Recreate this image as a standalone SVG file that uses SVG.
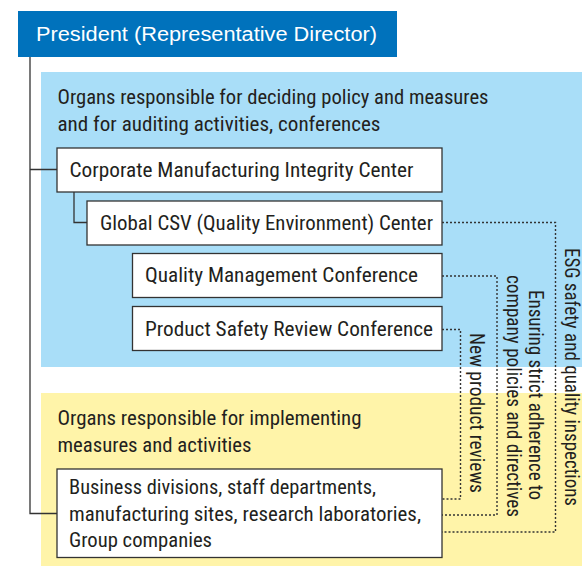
<svg xmlns="http://www.w3.org/2000/svg" width="582" height="569" viewBox="0 0 582 569">
  <style>
    .t { font-family: "Liberation Sans Narrow", "Roboto Condensed", "Liberation Sans", sans-serif; font-size: 20px; fill: #231f20; }
    .v { font-family: "Liberation Sans Narrow", "Roboto Condensed", Roboto, sans-serif; font-size: 19.5px; fill: #231f20; }
    .head { font-family: "Liberation Sans", Arial, sans-serif; font-size: 20px; fill: #ffffff; }
    .box { fill: #ffffff; stroke: #333333; stroke-width: 1.3; }
    .tree { fill: none; stroke: #333333; stroke-width: 1.3; }
    .dot { fill: none; stroke: #333333; stroke-width: 1.4; stroke-dasharray: 2 2; }
  </style>

  <!-- panels -->
  <rect x="41" y="72" width="541" height="295" fill="#a9def8"/>
  <rect x="41" y="393" width="541" height="173" fill="#fff4a9"/>

  <!-- reporting lines -->
  <g id="connectors">
    <path class="tree" d="M30,56 V513.5 H57 M30,169.5 H57 M74,192 V222.5 H87"/>
    <path class="dot" d="M442,222.5 H555.5 V532 H442"/>
    <path class="dot" d="M442,276 H497 V515 H442"/>
    <path class="dot" d="M442,329.5 H460.5 V499 H442"/>
  </g>

  <g id="president">
    <rect x="18" y="11" width="379" height="46" fill="#0072bc"/>
    <text class="head" x="36" y="41" textLength="341" lengthAdjust="spacingAndGlyphs">President (Representative Director)</text>
  </g>

  <g id="policy-organs">
    <text class="t" x="57.5" y="104" textLength="431" lengthAdjust="spacingAndGlyphs">Organs responsible for deciding policy and measures</text>
    <text class="t" x="57.5" y="130.5" textLength="323" lengthAdjust="spacingAndGlyphs">and for auditing activities, conferences</text>
  </g>

  <g id="corporate-center">
    <rect class="box" x="57" y="148" width="385" height="44"/>
    <text class="t" x="69.5" y="176.5" textLength="344" lengthAdjust="spacingAndGlyphs">Corporate Manufacturing Integrity Center</text>
  </g>

  <g id="global-csv">
    <rect class="box" x="87" y="201" width="355" height="44"/>
    <text class="t" x="100" y="230" textLength="333" lengthAdjust="spacingAndGlyphs">Global CSV (Quality Environment) Center</text>
  </g>

  <g id="quality-conference">
    <rect class="box" x="132.5" y="253.5" width="309.5" height="44"/>
    <text class="t" x="145" y="281.5" textLength="273" lengthAdjust="spacingAndGlyphs">Quality Management Conference</text>
  </g>

  <g id="safety-conference">
    <rect class="box" x="132.5" y="306.5" width="309.5" height="44"/>
    <text class="t" x="145" y="336" textLength="288" lengthAdjust="spacingAndGlyphs">Product Safety Review Conference</text>
  </g>

  <g id="implementing-organs">
    <text class="t" x="57.5" y="425" textLength="304" lengthAdjust="spacingAndGlyphs">Organs responsible for implementing</text>
    <text class="t" x="57.5" y="451.5" textLength="194" lengthAdjust="spacingAndGlyphs">measures and activities</text>
  </g>

  <g id="business-units">
    <rect class="box" x="57" y="469" width="385" height="88.5"/>
    <text class="t" x="69" y="493.5" textLength="307" lengthAdjust="spacingAndGlyphs">Business divisions, staff departments,</text>
    <text class="t" x="69" y="520.5" textLength="352" lengthAdjust="spacingAndGlyphs">manufacturing sites, research laboratories,</text>
    <text class="t" x="69" y="547" textLength="143" lengthAdjust="spacingAndGlyphs">Group companies</text>
  </g>

  <!-- labels on the dotted lines -->
  <g id="line-labels">
    <text class="v" transform="translate(565,248) rotate(90)" textLength="258" lengthAdjust="spacingAndGlyphs">ESG safety and quality inspections</text>
    <text class="v" transform="translate(528.5,290) rotate(90)" textLength="210" lengthAdjust="spacingAndGlyphs">Ensuring strict adherence to</text>
    <text class="v" transform="translate(507,275) rotate(90)" textLength="242" lengthAdjust="spacingAndGlyphs">company policies and directives</text>
    <text class="v" transform="translate(470,333) rotate(90)" textLength="160" lengthAdjust="spacingAndGlyphs">New product reviews</text>
  </g>
</svg>
